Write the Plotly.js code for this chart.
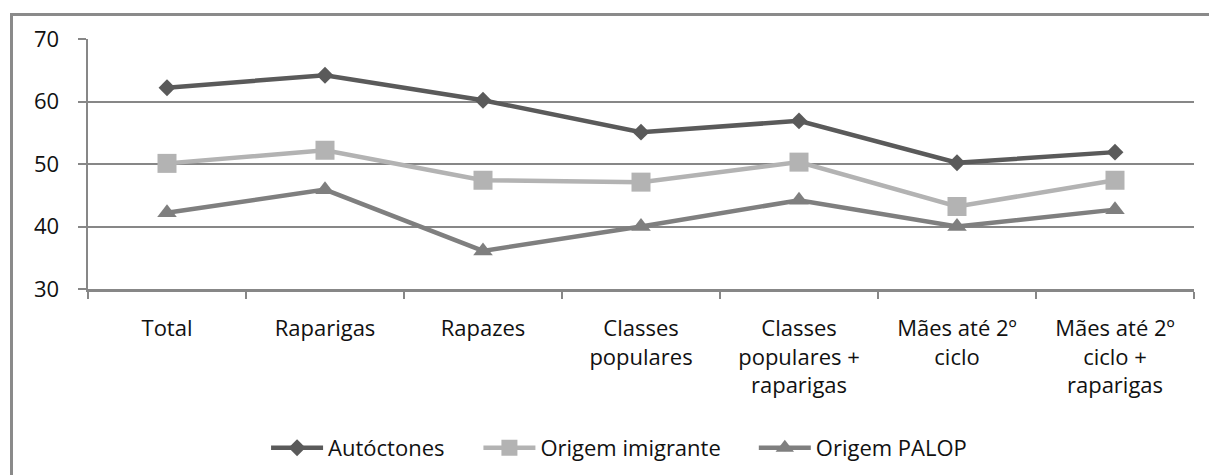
<!DOCTYPE html>
<html>
<head>
<meta charset="utf-8">
<script src="https://cdn.plot.ly/plotly-3.0.1.min.js"></script>
<style>
  html, body { margin: 0; padding: 0; background: #ffffff; overflow: hidden; }
  #chart { width: 1209px; height: 475px; position: absolute; left: 0; top: 0; }
  #frame { position: absolute; left: 10px; top: 13px; width: 1220px; height: 500px;
           border: 3px solid #8a8a8a; box-sizing: border-box; pointer-events: none; }
</style>
</head>
<body>
<div id="chart"></div>
<div id="frame"></div>
<script>
const categories = [
  "Total",
  "Raparigas",
  "Rapazes",
  "Classes<br>populares",
  "Classes<br>populares +<br>raparigas",
  "Mães até 2º<br>ciclo",
  "Mães até 2º<br>ciclo +<br>raparigas"
];
const seriesNames = ["Autóctones", "Origem imigrante", "Origem PALOP"];
const autoctones = [62.2, 64.2, 60.2, 55.1, 56.9, 50.2, 51.9];
const origemImigrante = [50.1, 52.2, 47.4, 47.1, 50.3, 43.2, 47.4];
const origemPALOP = [42.2, 45.9, 36.1, 40.0, 44.2, 40.0, 42.7];
const yTicks = [30, 40, 50, 60, 70];

const FONT = "'Open Sans', Lato, 'DejaVu Sans', sans-serif";
const GRID = "#878787";
const TXT = "#111111";

const styles = [
  { color: "#5a5a5a", symbol: "diamond", size: 13, legend: "legend" },
  { color: "#b3b3b3", symbol: "square", size: 19, legend: "legend2" },
  { color: "#7f7f7f", symbol: "triangle-up", size: 17, legend: "legend3" }
];
const values = [autoctones, origemImigrante, origemPALOP];

const traces = values.map((vals, i) => ({
  type: "scatter",
  mode: "lines+markers",
  name: seriesNames[i],
  legend: styles[i].legend,
  x: categories,
  y: vals,
  line: { color: styles[i].color, width: 4.5 },
  marker: { color: styles[i].color, symbol: styles[i].symbol, size: styles[i].size, line: { width: 0 } },
  cliponaxis: false
}));

function legendAt(xPaper) {
  return {
    orientation: "h",
    x: xPaper,
    xanchor: "left",
    y: -0.636,
    yanchor: "middle",
    font: { family: FONT, size: 22, color: TXT },
    itemwidth: 52,
    bgcolor: "rgba(0,0,0,0)",
    borderwidth: 0
  };
}

const layout = {
  width: 1209,
  height: 475,
  margin: { l: 88, r: 15, t: 39, b: 186, autoexpand: false },
  paper_bgcolor: "#ffffff",
  plot_bgcolor: "#ffffff",
  font: { family: FONT, size: 22, color: TXT },
  showlegend: true,
  legend: legendAt(0.161),
  legend2: legendAt(0.353),
  legend3: legendAt(0.602),
  xaxis: {
    type: "category",
    range: [-0.5, 6.5],
    tickson: "boundaries",
    ticks: "outside",
    ticklen: 7,
    tickwidth: 2,
    tickcolor: GRID,
    showline: true,
    linecolor: GRID,
    linewidth: 2.5,
    showgrid: false,
    zeroline: false,
    ticklabelstandoff: 18,
    tickfont: { family: FONT, size: 22, color: TXT },
    fixedrange: true
  },
  yaxis: {
    range: [30, 70],
    tickvals: yTicks,
    ticktext: yTicks.map(String),
    ticks: "outside",
    ticklen: 8,
    tickwidth: 2,
    tickcolor: GRID,
    showline: true,
    linecolor: GRID,
    linewidth: 2.5,
    showgrid: true,
    gridcolor: GRID,
    gridwidth: 2,
    zeroline: false,
    ticklabelstandoff: 14,
    tickfont: { family: FONT, size: 22, color: TXT },
    fixedrange: true
  }
};

Plotly.newPlot("chart", traces, layout, { displayModeBar: false, staticPlot: true });
</script>
</body>
</html>
